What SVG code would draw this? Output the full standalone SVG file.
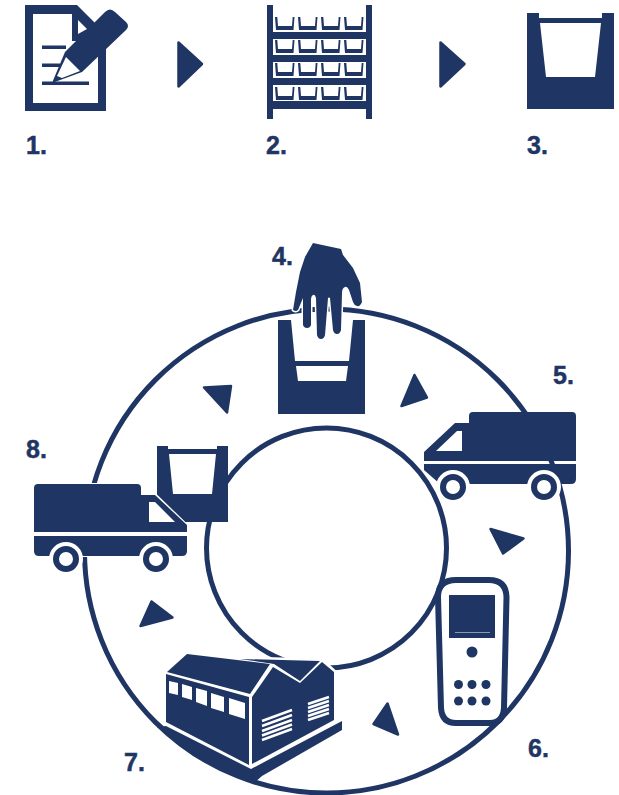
<svg xmlns="http://www.w3.org/2000/svg" width="619" height="795" viewBox="0 0 619 795">
<style>
.d{fill:#1f3664}
.w{fill:#fff}
.ring{fill:none;stroke:#1f3664;stroke-width:5}
.arr{fill:#1f3664;stroke:#1f3664;stroke-width:2.500;stroke-linejoin:round}
.lbl{font-family:"Liberation Sans",Arial,sans-serif;font-weight:700;font-size:25px;fill:#1f3664;stroke:#1f3664;stroke-width:.5}
.halo{stroke:#fff;stroke-width:3;stroke-linejoin:round;paint-order:stroke}
.lv{stroke:#fff;stroke-width:2.400;fill:none}
</style>
<defs>
<path id="b" class="d" d="M0 0H2.300L3 9H17L17.700 0H19.500L18.500 13H1Z"/>
</defs>
<g id="connectors">
<circle class="ring" cx="326.500" cy="551" r="242"/>
<circle class="ring" cx="326.500" cy="548" r="120"/>
<path class="arr" d="M178.500 42.500L202 64L178.500 86.500Z"/>
<path class="arr" d="M440.500 42.500L464.500 64L440.500 86.500Z"/>
<path class="arr" d="M204 387.500L231 386L227 412.500Z"/>
<path class="arr" d="M414.500 375L427 397.500L401.500 406Z"/>
<path class="arr" d="M490.500 529L523.500 538.500L503 553.500Z"/>
<path class="arr" d="M387.500 703.500L398 734.500L373.500 724Z"/>
<path class="arr" d="M151.500 601.500L172.500 617.500L140.500 626Z"/>
</g>
<g id="node1">
<path class="d" fill-rule="evenodd" d="M25 5H77L100 28L106 40V111H25ZM33 14V103H98V50L76 41H72V14Z"/>
<path class="d" d="M42 45.500H66V49H42ZM42 63.500H60V67H42ZM42 81.500H89V85H42Z"/>
<path class="d" d="M65 52L105 12Q110 7 115 12L126 22Q130 26 126 30L82 72L52 83Z"/>
<path class="w" d="M78 20L87 29L78 34Z"/>
<path class="w" d="M66 57L80 71L62 78L57 76Z"/>
<text class="lbl" x="26" y="154">1.</text>
</g>
<g id="node2">
<path class="d" d="M267 5H273V32H366V5H372V119H366V109H273V119H267ZM273 39V55H366V39ZM273 62V78H366V62ZM273 85V101H366V85Z"/>
<use href="#b" x="275" y="17"/><use href="#b" x="298" y="17"/><use href="#b" x="321" y="17"/><use href="#b" x="344" y="17"/>
<use href="#b" x="275" y="40"/><use href="#b" x="298" y="40"/><use href="#b" x="321" y="40"/><use href="#b" x="344" y="40"/>
<use href="#b" x="275" y="63"/><use href="#b" x="298" y="63"/><use href="#b" x="321" y="63"/><use href="#b" x="344" y="63"/>
<use href="#b" x="275" y="87"/><use href="#b" x="298" y="87"/><use href="#b" x="321" y="87"/><use href="#b" x="344" y="87"/>
<text class="lbl" x="266" y="154">2.</text>
</g>
<g id="node3">
<path class="d" fill-rule="evenodd" d="M527 13H539V18H602V13H614V109H527ZM540 23L546 77H595L601 23Z"/>
<text class="lbl" x="527" y="154">3.</text>
</g>
<g id="node4">
<path class="d" fill-rule="evenodd" d="M278 320H291L295 361H349L353 320H365V414H278ZM296 366L298 381H346L348 366Z"/>
<path class="d halo" d="M313 243L341 249L343 255L353 268L360 283L362 302Q360 307 357 306Q354 305 353 302L349 290Q347 286 345 287Q342 288 342 293L341 330Q340 334 337 334Q334 334 333 330L330 298Q329 297 328 298L325 335Q324 339 321 339Q318 339 317 335L316 298Q315 294 313 295Q311 296 311 300L311 325Q310 328 307 328Q304 328 303 325L303 298L298 310Q296 312 293 310L296 292L300 272L305 257Z"/>
<text class="lbl" x="272" y="265">4.</text>
</g>
<g id="node5">
<path class="d" d="M469 416Q469 412 473 412H572Q576 412 576 416V461H424V452L455 423H469Z"/>
<path class="d" d="M424 464H576V479Q576 484 571 484H440L424 470Z"/>
<path class="w" d="M462 431H457L436 451H462Z"/>
<circle class="w" cx="453" cy="487" r="17"/><circle class="w" cx="544" cy="487" r="17"/>
<circle cx="453" cy="487" r="10" fill="#fff" stroke="#1f3664" stroke-width="6"/>
<circle cx="544" cy="487" r="10" fill="#fff" stroke="#1f3664" stroke-width="6"/>
<text class="lbl" x="553" y="384">5.</text>
</g>
<g id="node6">
<path d="M456 580H489Q506 580 506.500 597L504 708Q503 723 490 723H456Q442 723 441 708L438 597Q438 580 456 580Z" fill="#fff" stroke="#1f3664" stroke-width="6"/>
<rect class="d" x="449" y="595" width="46" height="43"/>
<path d="M455 632.500H490" stroke="#8d9ab3" stroke-width="1"/>
<circle class="d" cx="472" cy="652" r="5.500"/>
<circle class="d" cx="458.500" cy="684.500" r="4.500"/><circle class="d" cx="472" cy="684.500" r="4.500"/><circle class="d" cx="486" cy="684.500" r="4.500"/>
<circle class="d" cx="458.500" cy="701" r="4.500"/><circle class="d" cx="472" cy="701" r="4.500"/><circle class="d" cx="486" cy="701" r="4.500"/>
<text class="lbl" x="528" y="757">6.</text>
</g>
<g id="node7">
<path class="w" stroke="#fff" stroke-width="5" d="M187 654L240 659L322 661L334 672V720L252 764L166 722V672Z"/>
<path class="d" d="M157 727L166 726L251 769L342 721V730L262 776L254 783L200 757Z"/>
<path class="d" d="M240 659L320 661L300 681L274 664Z"/>
<path d="M238 660.500L272 664.500" stroke="#fff" stroke-width="1.200"/>
<path class="d" d="M187 654L270 664L250 694L167 672Z"/>
<path class="d" d="M166 674L249 697V765L166 722Z"/>
<path class="d" d="M252 697L273 667L300 683L322 662L334 672V720L252 764Z"/>
<path class="w" d="M169 681L178 683V695L169 693ZM182 684L192 687V700L182 697ZM196 688L207 691V706L196 702ZM211 693L224 697V712L211 708ZM229 698L245 703V719L229 714Z"/>
<path class="lv" d="M262 721L292 710M262 726L292 715M262 731L292 720M262 735.500L292 724.500M262 740L292 729M308 704L329 697M308 708L329 701M308 712L329 705M308 716L329 709M308 720L329 713"/>
<text class="lbl" x="124" y="771">7.</text>
</g>
<g id="node8">
<path class="d" fill-rule="evenodd" d="M157 446H168V449H217V446H228V522H157ZM169 454L173 494H212L216 454Z"/>
<path class="w" stroke="#fff" stroke-width="2" d="M34 484H141V494H155L187 525V556H34Z"/>
<path class="d" d="M38 484H137Q141 484 141 488V495H155L187 525V532H34V488Q34 484 38 484Z"/>
<path class="d" d="M34 536H187V551Q187 556 182 556H39Q34 556 34 551Z"/>
<path class="w" d="M149 502H155L175 522H149Z"/>
<circle class="w" cx="66" cy="559" r="17"/><circle class="w" cx="156" cy="559" r="17"/>
<circle cx="66" cy="559" r="10" fill="#fff" stroke="#1f3664" stroke-width="6"/>
<circle cx="156" cy="559" r="10" fill="#fff" stroke="#1f3664" stroke-width="6"/>
<text class="lbl" x="26" y="458">8.</text>
</g>
</svg>
